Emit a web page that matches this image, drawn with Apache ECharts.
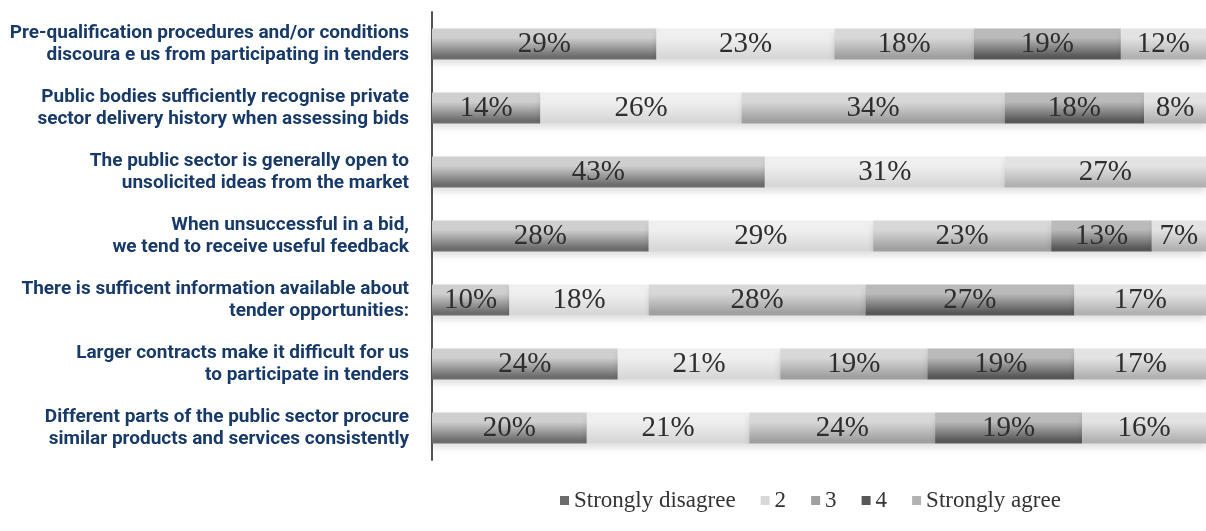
<!DOCTYPE html>
<html>
<head>
<meta charset="utf-8">
<script src="https://cdn.jsdelivr.net/npm/echarts@6/dist/echarts.min.js"></script>
<style>
  html, body { margin: 0; padding: 0; background: #fff; }
  #chart { width: 1206px; height: 531px; }
</style>
</head>
<body>
<div id="chart"></div>
<script>
// statements, top to bottom
const statements = [
  'Pre-qualification procedures and/or conditions\ndiscoura e us from participating in tenders',
  'Public bodies sufficiently recognise private\nsector delivery history when assessing bids',
  'The public sector is generally open to\nunsolicited ideas from the market',
  'When unsuccessful in a bid,\nwe tend to receive useful feedback',
  'There is sufficent information available about\ntender opportunities:',
  'Larger contracts make it difficult for us\nto participate in tenders',
  'Different parts of the public sector procure\nsimilar products and services consistently'
]

const levels = ['Strongly disagree', '2', '3', '4', 'Strongly agree']

// one array per answer level, same order as statements (null = no segment)
const stronglyDisagree = [29, 14, 43, 28, 10, 24, 20]
const level2 = [23, 26, 31, 29, 18, 21, 21]
const level3 = [18, 34, null, 23, 28, 19, 24]
const level4 = [19, 18, null, 13, 27, 19, 19]
const stronglyAgree = [12, 8, 27, 7, 17, 17, 16]

const seriesValues = [stronglyDisagree, level2, level3, level4, stronglyAgree]

// gradient top / bottom per level
const shades = [
  ['#cfcfcf', '#6c6c6c'],
  ['#efefef', '#d8d8d8'],
  ['#d8d8d8', '#a0a0a0'],
  ['#bababa', '#585858'],
  ['#e3e3e3', '#b2b2b2']
]

const chart = echarts.init(document.getElementById('chart'))

function grad(c) {
  return new echarts.graphic.LinearGradient(0, 0, 0, 1, [
    { offset: 0, color: c[0] },
    { offset: 0.3, color: c[0] },
    { offset: 0.9, color: c[1] },
    { offset: 1, color: c[1] }
  ])
}

const option = {
  backgroundColor: '#fff',
  animation: false,
  grid: { left: 432, right: 0, top: 12, bottom: 71 },
  legend: {
    top: 484,
    left: 555,
    itemWidth: 9,
    itemHeight: 9,
    itemGap: 25,
    icon: 'rect',
    textStyle: { fontFamily: 'Liberation Serif', fontSize: 23, color: '#333' },
    data: levels.map((name, i) => ({ name: name, itemStyle: { color: shades[i][1] } }))
  },
  xAxis: {
    type: 'value',
    min: 0,
    max: 100,
    show: false
  },
  yAxis: {
    type: 'category',
    inverse: true,
    data: statements,
    axisLine: { show: true, lineStyle: { color: '#555', width: 2 } },
    axisTick: { show: false },
    axisLabel: {
      margin: 23,
      align: 'right',
      fontFamily: 'Roboto',
      fontWeight: 'bold',
      fontSize: 19,
      lineHeight: 22,
      padding: [4, 0, 0, 0],
      color: '#183a68'
    }
  },
  series: seriesValues.map((vals, i) => ({
    name: levels[i],
    type: 'bar',
    stack: 'total',
    barWidth: 31,
    clip: true,
    data: vals,
    itemStyle: {
      color: grad(shades[i]),
      shadowColor: 'rgba(0,0,0,0.12)',
      shadowBlur: 6,
      shadowOffsetY: 4
    },
    label: {
      show: true,
      position: 'inside',
      formatter: '{c}%',
      fontFamily: 'Liberation Serif',
      fontSize: 29,
      color: '#2e2e2e'
    }
  }))
}

chart.setOption(option)
</script>
</body>
</html>
